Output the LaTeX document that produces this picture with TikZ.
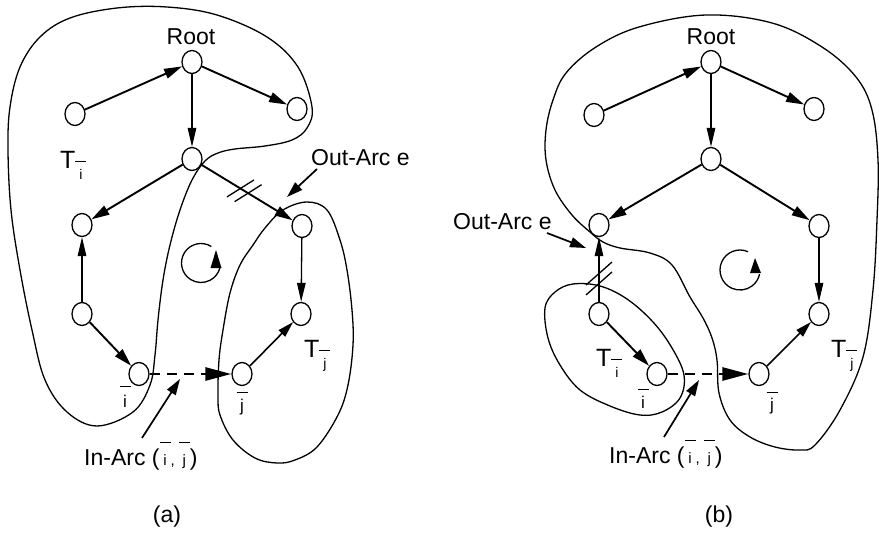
\documentclass[tikz,border=0pt]{standalone}
\usepackage{fontspec}
\setmainfont{Liberation Sans}
\usetikzlibrary{arrows.meta,calc,shapes.geometric}
\newcommand{\barlet}[3]{\hbox{\setbox0=\hbox{#1}\hbox to #3{\hss\box0\hss}\kern-#3\rule[#2]{#3}{1pt}}}
\newcommand{\Tlab}[1]{T\raisebox{-11pt}{\fontsize{14}{14}\selectfont\barlet{#1}{17pt}{11pt}}}
\newcommand{\inarc}{In-Arc ({\fontsize{15}{15}\selectfont\barlet{i}{22pt}{11pt},\hspace{4pt}\barlet{j}{22pt}{11pt}})}
\tikzset{
  vert/.style={draw, ellipse, minimum width=20pt, minimum height=23pt, inner sep=0pt, line width=1.3pt},
  edgeK/.style={line width=1.9pt, -{Triangle[length=18pt,width=10pt]}},
  edgeM/.style={line width=1.6pt, -{Triangle[length=16pt,width=9pt]}},
  edgeT/.style={line width=1.3pt, -{Triangle[length=19pt,width=8.5pt]}},
  dashedge/.style={line width=2.8pt, dash pattern=on 10pt off 7pt, -{Triangle[length=26pt,width=13pt]}},
  curve/.style={line width=1.3pt},
  pointer/.style={line width=1.7pt, -{Triangle[length=16pt,width=10pt]}},
  hashmark/.style={line width=1.3pt},
  bigT/.style={font=\fontsize{25}{29}\selectfont},
  sublab/.style={font=\fontsize{17}{19}\selectfont, anchor=base, inner sep=0pt},
}
\begin{document}
\begin{tikzpicture}[x=1pt, y=-1pt, font=\fontsize{23}{27}\selectfont]
\useasboundingbox (0,0) rectangle (879,533);

% ================= panel (a) =================
\draw[curve] plot[smooth cycle, tension=0.6] coordinates {
 (312,107) (307,128) (292,140) (265,146) (235,149) (218,153) (205,161) (192,180)
 (180,210) (170,245) (163,280) (158,320) (155,355) (150,385) (133,412) (97,426)
 (67,412) (45,380) (32,330) (20,270) (11,210) (8,150) (10,107) (20,67) (40,37)
 (70,18) (117,8) (167,7) (217,15) (267,37) (298,67)};
\draw[curve] plot[smooth cycle, tension=0.6] coordinates {
 (307,202) (327,210) (340,240) (347,270) (352,310) (353,345) (348,385) (338,415)
 (317,447) (295,460) (277,463) (255,458) (233,440) (220,415) (218,395) (219,360)
 (223,330) (230,293) (240,265) (253,245) (265,228) (283,210)};

\node[vert] (Ra)  at (192,62)  {};
\node[vert] (La)  at (75,114)  {};
\node[vert] (Rra) at (297,109) {};
\node[vert] (Ma)  at (192,159) {};
\node[vert] (LMa) at (82,225)  {};
\node[vert] (RMa) at (302,226) {};
\node[vert] (LLa) at (82,314)  {};
\node[vert] (Ia)  at (139,374) {};
\node[vert] (Ja)  at (242,374) {};
\node[vert] (RLa) at (301,314) {};

\draw[edgeK] (La) -- (Ra);
\draw[edgeK] (Ra) -- (Rra);
\draw[edgeT] (Ra) -- (Ma);
\draw[edgeK] (Ma) -- (LMa);
\draw[edgeK] (Ma) -- (RMa);
\draw[edgeT] (LLa) -- (LMa);
\draw[edgeK] (LLa) -- (Ia);
\draw[dashedge] (Ia) -- (Ja);
\draw[edgeM] (Ja) -- (RLa);
\draw[edgeT] (RMa) -- (RLa);

\draw[hashmark] ($(Ma)!0.44!(RMa)$) ++(-13.5,8.5) -- ++(27,-17);
\draw[hashmark] ($(Ma)!0.51!(RMa)$) ++(-13.5,8.5) -- ++(27,-17);

\draw[curve] (201,263) ++(-58:19.5) arc[start angle=-58, end angle=-345, radius=19.5];
\fill (216,250) -- (221.5,268) -- (210.5,268) -- cycle;

\node[anchor=base, inner sep=0pt] (roota) at (191,44) {Root};
\node[bigT, anchor=base west, inner sep=0pt] (tia) at (60,168) {\Tlab{i}};
\node[bigT, anchor=base west, inner sep=0pt] (tja) at (304,357) {\Tlab{j}};
\node[sublab] (ila) at (125,407) {\barlet{i}{20pt}{11pt}};
\node[sublab] (jla) at (242,411) {\barlet{j}{18pt}{11pt}};
\node[anchor=base west, inner sep=0pt] (outa) at (311,165) {Out-Arc e};
\node[anchor=base west, inner sep=0pt] (ina) at (84,465) {\inarc};
\node (pa) at (167,517) {(a)};

\coordinate (oa1) at (317,169);
\coordinate (oa2) at (287,197);
\draw[pointer] (oa1) -- (oa2);
\coordinate (ia1) at (142,438);
\coordinate (ia2) at (180,379);
\draw[pointer] (ia1) -- (ia2);

% ================= panel (b) =================
\draw[curve] plot[smooth cycle, tension=0.6] coordinates {
 (706,15) (772,23) (822,47) (856,77) (872,110) (878,160) (877,220) (873,290)
 (863,357) (840,410) (815,445) (800,450) (775,447) (750,437) (730,420) (719,393)
 (717,360) (712,338) (703,318) (690,297) (672,265) (650,253) (620,248) (603,242)
 (590,232) (572,215) (555,190) (546,160) (546,130) (553,100) (566,73) (596,47) (639,27)};
\draw[curve] plot[smooth cycle, tension=0.6] coordinates {
 (545,308) (555,292) (573,284) (600,286) (627,299) (653,322) (672,348) (684,375)
 (680,398) (662,412) (640,415) (610,406) (580,390) (560,365) (548,338)};

\node[vert] (Rb)  at (711,62)  {};
\node[vert] (Lb)  at (594,115) {};
\node[vert] (Rrb) at (814,109) {};
\node[vert] (Mb)  at (711,159) {};
\node[vert] (LMb) at (599,225) {};
\node[vert] (RMb) at (819,226) {};
\node[vert] (LLb) at (599,314) {};
\node[vert] (Ib)  at (657,374) {};
\node[vert] (Jb)  at (759,374) {};
\node[vert] (RLb) at (819,314) {};

\draw[edgeK] (Lb) -- (Rb);
\draw[edgeK] (Rb) -- (Rrb);
\draw[edgeT] (Rb) -- (Mb);
\draw[edgeK] (Mb) -- (LMb);
\draw[edgeK] (Mb) -- (RMb);
\draw[edgeT] (LLb) -- (LMb);
\draw[edgeK] (LLb) -- (Ib);
\draw[dashedge] (Ib) -- (Jb);
\draw[edgeM] (Jb) -- (RLb);
\draw[edgeT] (RMb) -- (RLb);

\draw[hashmark] ($(LLb)!0.455!(LMb)$) ++(-13,11.5) -- ++(26,-23);
\draw[hashmark] ($(LLb)!0.343!(LMb)$) ++(-13,11.5) -- ++(26,-23);

\draw[curve] (740,270) ++(-66:20) arc[start angle=-66, end angle=-348, radius=20];
\fill (755,258) -- (761,273) -- (750,273) -- cycle;

\node[anchor=base, inner sep=0pt] (rootb) at (711,44) {Root};
\node[bigT, anchor=base west, inner sep=0pt] (tib) at (596,366) {\Tlab{i}};
\node[bigT, anchor=base west, inner sep=0pt] (tjb) at (831,357) {\Tlab{j}};
\node[sublab] (ilb) at (643,408) {\barlet{i}{18pt}{11pt}};
\node[sublab] (jlb) at (772,410) {\barlet{j}{17pt}{11pt}};
\node[anchor=base west, inner sep=0pt] (outb) at (453,229) {Out-Arc e};
\node[anchor=base west, inner sep=0pt] (inb) at (609,463) {\inarc};
\node (pb) at (719,517) {(b)};

\coordinate (ob1) at (547,233);
\coordinate (ob2) at (586,248);
\draw[pointer] (ob1) -- (ob2);
\coordinate (ib1) at (664,437);
\coordinate (ib2) at (699,380);
\draw[pointer] (ib1) -- (ib2);
\end{tikzpicture}
\end{document}
